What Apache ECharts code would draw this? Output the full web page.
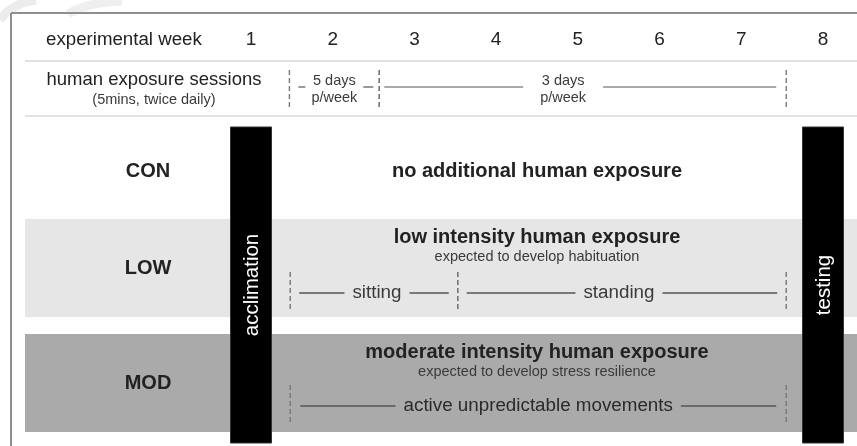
<!DOCTYPE html>
<html>
<head>
<meta charset="utf-8">
<script src="https://cdn.jsdelivr.net/npm/echarts@6/dist/echarts.min.js"></script>
<style>html,body{margin:0;padding:0;background:#fff}#c{width:857px;height:446px}</style>
</head>
<body>
<div id="c"></div>
<script>
// ---------------- DATA ----------------
const weeks = [1, 2, 3, 4, 5, 6, 7, 8];
const weekAxisTitle = 'experimental week';
const sessionTitle = 'human exposure sessions';
const sessionSubtitle = '(5mins, twice daily)';
const sessionLabels = ['5 days\np/week', '3 days\np/week'];
const sessionFrom = [1.47, 2.57];
const sessionTo = [2.57, 7.55];
const sessionLabelAt = [2.02, 4.82];
const phaseNames = ['acclimation', 'testing'];
const phaseWeeks = [1, 8];
const groups = ['CON', 'LOW', 'MOD'];
const groupTitles = ['no additional human exposure', 'low intensity human exposure', 'moderate intensity human exposure'];
const groupNotes = ['', 'expected to develop habituation', 'expected to develop stress resilience'];
const groupSpanFrom = [1.5, 1.5, 1.5];
const groupSpanTo = [7.5, 7.5, 7.5];
const lowActivities = ['sitting', 'standing'];
const lowFrom = [1.48, 3.53];
const lowTo = [3.53, 7.55];
const modActivities = ['active unpredictable movements'];
const modFrom = [1.48];
const modTo = [7.55];

// ---------------- STYLE / LAYOUT ----------------
const FONT = '"Liberation Sans", Arial, Helvetica, sans-serif';
const f = (size, weight) => (weight || 'normal') + ' ' + size + 'px ' + FONT;
const TXT = '#222';
const SUB = '#3a3a3a';
const LINE = '#555';
const DASH = '#777';
const bandFill = ['#ffffff', '#e6e6e6', '#aaaaaa'];
const L = {
  frameX: 11, frameY: 13,
  sepX: 25, sep: [61, 116],
  titleY: 40, labelColX: 148, headLeftX: 46, sessColX: 154,
  sessY: [80, 100], sessSmallY: [81, 98], sessLineY: 87, sessDash: [70, 110],
  barTop: 127, barBottom: 443, barW: 41,
  rows: [
    { top: 127, bottom: 212, label: 171, title: 171 },
    { top: 219, bottom: 317, label: 268, title: 237, note: 257, act: 293, dash: [272, 311] },
    { top: 334, bottom: 432, label: 383, title: 352, note: 372, act: 406, dash: [385, 425] }
  ]
};

const mctx = document.createElement('canvas').getContext('2d');
function tw(text, font) {
  mctx.font = font;
  return Math.max.apply(null, text.split('\n').map(s => mctx.measureText(s).width));
}
function txt(x, y, text, font, fill, align) {
  return { type: 'text', style: { x: x, y: y, text: text, font: font, fill: fill, align: align || 'center', verticalAlign: 'middle', lineHeight: 17 } };
}
function hline(x1, x2, y, stroke, w) {
  return { type: 'line', shape: { x1: x1, y1: y, x2: x2, y2: y }, style: { stroke: stroke, lineWidth: w || 1.3 } };
}
function vdash(x, y1, y2) {
  return { type: 'line', shape: { x1: x, y1: y1, x2: x, y2: y2 }, style: { stroke: DASH, lineWidth: 1.4, lineDash: [5, 3] } };
}
// spans "|—— label ——|"
function spanItems(api, from, to, y, dashY, label, font, labelAt, edgeL, edgeR, gap, lineY) {
  const x1 = api.coord([from, y])[0], x2 = api.coord([to, y])[0];
  const cx = labelAt != null ? api.coord([labelAt, y])[0] : (x1 + x2) / 2;
  const w = tw(label, font);
  const ly = lineY != null ? lineY : y;
  const out = [vdash(x1, dashY[0], dashY[1]), vdash(x2, dashY[0], dashY[1])];
  if (cx - w / 2 - gap > x1 + edgeL) out.push(hline(x1 + edgeL, cx - w / 2 - gap, ly, LINE));
  if (cx + w / 2 + gap < x2 - edgeR) out.push(hline(cx + w / 2 + gap, x2 - edgeR, ly, LINE));
  return out;
}

const chart = echarts.init(document.getElementById('c'), null, { renderer: 'canvas' });

const option = {
  animation: false,
  backgroundColor: '#fff',
  grid: { left: 251, right: 34, top: 0, bottom: 0 },
  xAxis: { type: 'value', min: 1, max: 8, show: false },
  yAxis: { type: 'value', min: 0, max: 446, inverse: true, show: false },
  series: [
    // background bands per group
    {
      type: 'custom', clip: false, z: 1,
      data: groups.map((g, i) => [i]),
      renderItem: (params, api) => {
        const i = api.value(0), r = L.rows[i];
        if (i === 0) return null;
        return { type: 'rect', shape: { x: L.sepX, y: r.top, width: api.getWidth() - L.sepX, height: r.bottom - r.top }, style: { fill: bandFill[i] } };
      }
    },
    // frame, separators, header titles
    {
      type: 'custom', clip: false, z: 2,
      data: [[0]],
      renderItem: (params, api) => {
        const W = api.getWidth(), H = api.getHeight();
        return {
          type: 'group', children: [
            { type: 'path', shape: { pathData: 'M0,20 Q12,3 36,0' }, style: { stroke: '#ececec', lineWidth: 9, fill: null } },
            { type: 'path', shape: { pathData: 'M68,14 Q88,2 122,1' }, style: { stroke: '#efefef', lineWidth: 9, fill: null } },
            { type: 'line', shape: { x1: L.frameX, y1: L.frameY, x2: W, y2: L.frameY }, style: { stroke: '#8f8f8f', lineWidth: 2 } },
            { type: 'line', shape: { x1: L.frameX, y1: L.frameY, x2: L.frameX, y2: H }, style: { stroke: '#8f8f8f', lineWidth: 2 } },
            hline(L.sepX, W, L.sep[0], '#e2e2e2', 2),
            hline(L.sepX, W, L.sep[1], '#e2e2e2', 2),
            txt(L.headLeftX, L.titleY, weekAxisTitle, f(18.7), TXT, 'left'),
            txt(L.sessColX, L.sessY[0], sessionTitle, f(18.5), TXT),
            txt(L.sessColX, L.sessY[1], sessionSubtitle, f(14.5), SUB)
          ]
        };
      }
    },
    // week numbers
    {
      type: 'custom', clip: false, z: 3,
      data: weeks.map(w => [w]),
      renderItem: (params, api) => {
        const p = api.coord([api.value(0), L.titleY]);
        return txt(p[0], p[1], String(weeks[params.dataIndex]), f(19), TXT);
      }
    },
    // session frequency periods
    {
      type: 'custom', clip: false, z: 3,
      data: sessionLabels.map((s, i) => [sessionFrom[i], sessionTo[i]]),
      renderItem: (params, api) => {
        const i = params.dataIndex;
        const font = f(14.5);
        const lbl = sessionLabels[i];
        const parts = lbl.split('\n');
        const cx = api.coord([sessionLabelAt[i], 0])[0];
        const w = tw(lbl, font);
        const x1 = api.coord([api.value(0), 0])[0], x2 = api.coord([api.value(1), 0])[0];
        const gap = i === 0 ? 6 : 17;
        const edgeL = i === 0 ? 9 : 5, edgeR = i === 0 ? 6 : 10;
        const ch = [vdash(x1, L.sessDash[0], L.sessDash[1]), vdash(x2, L.sessDash[0], L.sessDash[1])];
        ch.push(hline(x1 + edgeL, cx - w / 2 - gap, L.sessLineY, LINE, 1.2));
        ch.push(hline(cx + w / 2 + gap, x2 - edgeR, L.sessLineY, LINE, 1.2));
        ch.push(txt(cx, L.sessSmallY[0], parts[0], font, SUB));
        ch.push(txt(cx, L.sessSmallY[1], parts[1], font, SUB));
        return { type: 'group', children: ch };
      }
    },
    // group labels and titles
    {
      type: 'custom', clip: false, z: 3,
      data: groups.map((g, i) => [groupSpanFrom[i], groupSpanTo[i]]),
      renderItem: (params, api) => {
        const i = params.dataIndex, r = L.rows[i];
        const cx = (api.coord([api.value(0), 0])[0] + api.coord([api.value(1), 0])[0]) / 2;
        const ch = [
          txt(L.labelColX, r.label, groups[i], f(20, 'bold'), TXT),
          txt(cx, r.title, groupTitles[i], f(20, 'bold'), TXT)
        ];
        if (groupNotes[i]) ch.push(txt(cx, r.note, groupNotes[i], f(14.5), SUB));
        return { type: 'group', children: ch };
      }
    },
    // LOW activities
    {
      type: 'custom', clip: false, z: 3,
      data: lowActivities.map((a, i) => [lowFrom[i], lowTo[i]]),
      renderItem: (params, api) => {
        const i = params.dataIndex, r = L.rows[1];
        const font = f(18.8);
        const x1 = api.coord([api.value(0), 0])[0], x2 = api.coord([api.value(1), 0])[0];
        const cx = (x1 + x2) / 2 + (i === 0 ? 3 : -3);
        const w = tw(lowActivities[i], font);
        const ch = [vdash(x1, r.dash[0], r.dash[1]), vdash(x2, r.dash[0], r.dash[1])];
        ch.push(hline(x1 + 9, cx - w / 2 - 8, r.act, LINE));
        ch.push(hline(cx + w / 2 + 8, x2 - 9, r.act, LINE));
        ch.push(txt(cx, r.act, lowActivities[i], font, SUB));
        return { type: 'group', children: ch };
      }
    },
    // MOD activities
    {
      type: 'custom', clip: false, z: 3,
      data: modActivities.map((a, i) => [modFrom[i], modTo[i]]),
      renderItem: (params, api) => {
        const i = params.dataIndex, r = L.rows[2];
        const font = f(18.8);
        const x1 = api.coord([api.value(0), 0])[0], x2 = api.coord([api.value(1), 0])[0];
        const cx = (x1 + x2) / 2;
        const w = tw(modActivities[i], font);
        const ch = [vdash(x1, r.dash[0], r.dash[1]), vdash(x2, r.dash[0], r.dash[1])];
        ch.push(hline(x1 + 10, cx - w / 2 - 8, r.act, LINE));
        ch.push(hline(cx + w / 2 + 8, x2 - 10, r.act, LINE));
        ch.push(txt(cx, r.act, modActivities[i], font, '#2a2a2a'));
        return { type: 'group', children: ch };
      }
    },
    // phase bars (acclimation / testing)
    {
      type: 'custom', clip: false, z: 5,
      data: phaseWeeks.map(w => [w]),
      renderItem: (params, api) => {
        const i = params.dataIndex;
        const x = api.coord([api.value(0), 0])[0];
        const cy = (L.barTop + L.barBottom) / 2;
        return {
          type: 'group', children: [
            { type: 'rect', shape: { x: x - L.barW / 2, y: L.barTop, width: L.barW, height: L.barBottom - L.barTop }, style: { fill: '#000', stroke: '#333', lineWidth: 1 } },
            { type: 'text', x: x + 1, y: cy, rotation: Math.PI / 2, style: { x: 0, y: 0, text: phaseNames[i], font: f(20.5), fill: '#fff', align: 'center', verticalAlign: 'middle' } }
          ]
        };
      }
    }
  ]
};
chart.setOption(option);
</script>
</body>
</html>
